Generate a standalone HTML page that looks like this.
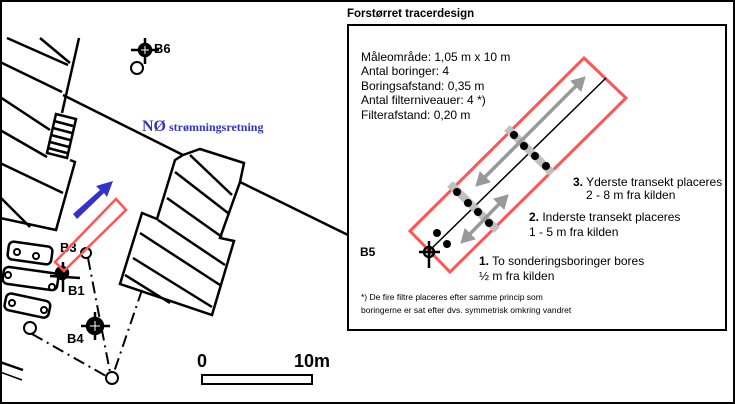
<!DOCTYPE html>
<html><head><meta charset="utf-8"><style>
html,body{margin:0;padding:0;background:#fff}
svg{display:block}
</style></head><body>
<svg width="735" height="404" viewBox="0 0 735 404" xmlns="http://www.w3.org/2000/svg" font-family="Liberation Sans, sans-serif">
<rect x="1" y="1" width="733" height="402" fill="#fff" stroke="#000" stroke-width="2"/>
<g stroke="#000" stroke-width="2.5" fill="none">
<polyline points="79,38 62,113"/>
<polyline points="70,160 75,162 56,230 0,218"/>
<line x1="7" y1="38" x2="68" y2="65"/><line x1="40" y1="38" x2="70" y2="63"/>
<line x1="0" y1="62" x2="62" y2="92"/><line x1="0" y1="97" x2="50" y2="130"/>
<line x1="0" y1="130" x2="47" y2="157"/><line x1="0" y1="163" x2="63" y2="193"/>
<line x1="0" y1="197" x2="30" y2="227"/>
<polygon points="56,114 76,119 67,158 47,153"/>
<line x1="54" y1="121" x2="73" y2="126"/><line x1="53" y1="128" x2="72" y2="133"/>
<line x1="51" y1="135" x2="70" y2="140"/><line x1="50" y1="142" x2="69" y2="147"/>
<line x1="48" y1="148" x2="67" y2="153"/>
<polyline points="63,95 183,155"/>
<polyline points="240,182 350,236"/>
<polygon points="183,155 200,149 244,163 240,182 220,238 234,241 212,315 120,284 142,213 157,219 175,160"/>
<line x1="190" y1="155" x2="232" y2="195"/><line x1="175" y1="172" x2="228" y2="213"/>
<line x1="167" y1="198" x2="222" y2="237"/><line x1="158" y1="220" x2="225" y2="265"/>
<line x1="140" y1="233" x2="220" y2="285"/><line x1="133" y1="258" x2="212" y2="307"/>
<line x1="125" y1="275" x2="170" y2="303"/>
<rect x="8" y="244" width="44" height="18" rx="5" transform="rotate(8 30 253)"/>
<rect x="3" y="270" width="55" height="17" rx="5" transform="rotate(8 30 278)"/>
<rect x="5" y="297" width="45" height="17" rx="5" transform="rotate(12 27 305)"/>
<line x1="0" y1="362" x2="23" y2="370"/><line x1="0" y1="372" x2="22" y2="380" stroke-width="1.5"/>
</g>
<g fill="#fff" stroke="#000" stroke-width="2">
<circle cx="17" cy="252" r="3"/><circle cx="36" cy="256" r="3"/>
<circle cx="8" cy="275" r="3"/><circle cx="52" cy="287" r="3"/>
<circle cx="12" cy="303" r="3"/><circle cx="44" cy="310" r="3"/>
<circle cx="30" cy="328" r="6"/><circle cx="86" cy="253" r="5"/>
<circle cx="112" cy="378" r="6"/><circle cx="137" cy="68" r="6"/>
</g>
<g stroke="#000" stroke-width="2" stroke-dasharray="12,5,2,5" fill="none">
<line x1="32" y1="334" x2="106" y2="376"/>
<line x1="88" y1="258" x2="110" y2="372"/>
<line x1="142" y1="290" x2="114" y2="372"/>
</g>
<g stroke="#000" stroke-width="2.5">
<circle cx="145" cy="50" r="6" fill="#000"/><line x1="131" y1="50" x2="159" y2="50"/><line x1="145" y1="38" x2="145" y2="64"/>
<circle cx="95" cy="326" r="8" fill="#000"/><line x1="81" y1="326" x2="110" y2="326"/><line x1="95" y1="312" x2="95" y2="340"/>
<circle cx="62" cy="273" r="6" fill="#000"/><line x1="50" y1="276" x2="80" y2="278"/><line x1="63" y1="262" x2="63" y2="292"/>
</g>
<g stroke="#fff" stroke-width="1"><line x1="90" y1="326" x2="100" y2="326"/><line x1="95" y1="321" x2="95" y2="331"/><line x1="141" y1="50" x2="149" y2="50"/><line x1="145" y1="46" x2="145" y2="54"/></g>
<g font-weight="bold" font-size="13" fill="#000">
<text x="154" y="53">B6</text><text x="60" y="252">B3</text><text x="68" y="295">B1</text><text x="67" y="343">B4</text>
</g>
<polygon points="55,262 116,199 126,210 64,271" fill="none" stroke="#f55" stroke-width="2.5"/>
<polygon points="73,214 100,190 96,186 113,181 107,197 104,193 77,219" fill="#3333cc"/>
<text x="142" y="131" fill="#3333cc" font-family="Liberation Serif, serif" font-weight="bold"><tspan font-size="16">NØ</tspan><tspan font-size="12"> strømningsretning</tspan></text>
<text x="197" y="367" font-size="18" font-weight="bold">0</text>
<text x="294" y="367" font-size="18" font-weight="bold">10m</text>
<rect x="202" y="375" width="110" height="9" fill="#fff" stroke="#000" stroke-width="2"/>
<text x="347" y="17" font-size="11.5" font-weight="bold">Forstørret tracerdesign</text>
<rect x="348" y="25" width="378" height="305" fill="#fff" stroke="#000" stroke-width="2"/>
<g font-size="12" fill="#000">
<text x="361" y="61">Måleområde: 1,05 m x 10 m</text>
<text x="361" y="75">Antal boringer: 4</text>
<text x="361" y="90">Boringsafstand: 0,35 m</text>
<text x="361" y="104">Antal filterniveauer: 4 *)</text>
<text x="361" y="119">Filterafstand: 0,20 m</text>
<text x="573" y="186"><tspan font-weight="bold">3.</tspan> Yderste transekt placeres</text>
<text x="586" y="199">2 - 8 m fra kilden</text>
<text x="529" y="221"><tspan font-weight="bold">2.</tspan> Inderste transekt placeres</text>
<text x="529" y="236">1 - 5 m fra kilden</text>
<text x="479" y="265"><tspan font-weight="bold">1.</tspan> To sonderingsboringer bores</text>
<text x="479" y="280">½ m fra kilden</text>
<text x="360" y="256" font-weight="bold">B5</text>
</g>
<g font-size="8.5"><text x="361" y="300">*) De fire filtre placeres efter samme princip som</text><text x="361" y="313">boringerne er sat efter dvs. symmetrisk omkring vandret</text></g>
<polygon points="410,231 584,58 626,98 450,272" fill="none" stroke="#f55" stroke-width="3"/>
<line x1="430" y1="250" x2="606" y2="78" stroke="#000" stroke-width="1.5"/>
<g stroke="#c0c0c0" stroke-width="8"><line x1="450" y1="184" x2="497" y2="230"/><line x1="507" y1="128" x2="552" y2="173"/></g>
<g stroke="#999" stroke-width="3.5" fill="#999">
<line x1="482" y1="180" x2="579" y2="83"/>
<polygon points="476,186 480,172 490,182" stroke-width="1"/>
<polygon points="585,77 581,91 571,81" stroke-width="1"/>
<line x1="467" y1="237" x2="502" y2="201"/>
<polygon points="461,243 465,229 475,239" stroke-width="1"/>
<polygon points="508,195 504,209 494,199" stroke-width="1"/>
</g>
<g fill="#000">
<circle cx="457" cy="192" r="4"/><circle cx="468" cy="203" r="4"/><circle cx="478" cy="212" r="4"/><circle cx="489" cy="223" r="4"/>
<circle cx="514" cy="135" r="4"/><circle cx="524" cy="146" r="4"/><circle cx="535" cy="156" r="4"/><circle cx="546" cy="166" r="4"/>
<circle cx="437" cy="233" r="4"/><circle cx="447" cy="244" r="4"/>
</g>
<g stroke="#000" stroke-width="2.5"><circle cx="429" cy="252" r="5" fill="none"/><line x1="419" y1="252" x2="440" y2="252"/><line x1="429" y1="241" x2="429" y2="268"/></g>
</svg>
</body></html>
